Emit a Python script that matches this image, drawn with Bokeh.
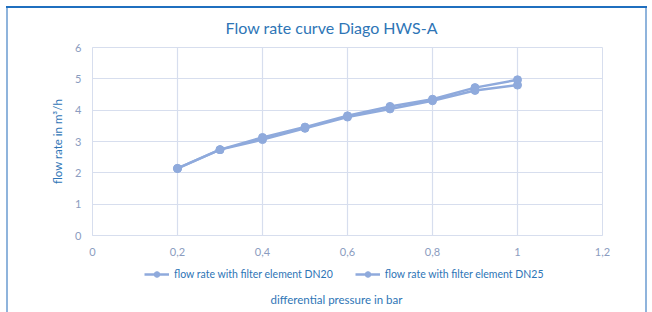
from bokeh.plotting import figure
from bokeh.layouts import column
from bokeh.models import FixedTicker, Legend, LegendItem, Label, Range1d
from bokeh.embed import file_html
from bokeh.resources import INLINE

pressure = [0.2, 0.3, 0.4, 0.5, 0.6, 0.7, 0.8, 0.9, 1.0]
flow_dn20 = [2.14, 2.74, 3.06, 3.42, 3.78, 4.04, 4.30, 4.63, 4.80]
flow_dn25 = [2.14, 2.74, 3.13, 3.46, 3.82, 4.12, 4.35, 4.72, 4.97]
x_ticks = [0, 0.2, 0.4, 0.6, 0.8, 1.0, 1.2]
x_tick_labels = ["0", "0,2", "0,4", "0,6", "0,8", "1", "1,2"]
y_ticks = [0, 1, 2, 3, 4, 5, 6]
series_names = ["flow rate with filter element DN20", "flow rate with filter element DN25"]

FONT = "Lato"
BLUE = "#2e75b6"
TICK = "#8b9cc0"
GRID = "#d7deee"
SERIES = "#8faadc"

frame_bg = ("linear-gradient(#1f6fbf,#1f6fbf) 6px 6px / 641px 2px no-repeat, "
            "linear-gradient(#8fb4dc,#8fb4dc) 6px 6px / 2px 306px no-repeat, "
            "linear-gradient(#8fb4dc,#8fb4dc) 645px 6px / 2px 306px no-repeat, white")

p = figure(width=652, height=262, output_backend="svg", toolbar_location=None,
           x_range=Range1d(0, 1.2), y_range=Range1d(0, 6),
           min_border_left=92, min_border_right=50, min_border_top=47, min_border_bottom=27)
p.border_fill_alpha = 0

p.title.text = "Flow rate curve Diago HWS-A"
p.title.align = "left"
p.title.offset = 133
p.title.standoff = 21
p.title.text_font = FONT
p.title.text_font_size = "16px"
p.title.text_font_style = "normal"
p.title.text_color = BLUE

p.xaxis.ticker = FixedTicker(ticks=x_ticks)
p.xaxis.major_label_overrides = {t: l for t, l in zip(x_ticks, x_tick_labels)}
p.yaxis.ticker = FixedTicker(ticks=y_ticks)
for ax in (p.xaxis, p.yaxis):
    ax.axis_line_color = GRID
    ax.major_tick_line_color = None
    ax.minor_tick_line_color = None
    ax.major_label_text_font = FONT
    ax.major_label_text_font_size = "11px"
    ax.major_label_text_color = TICK
    ax.axis_label_text_font = FONT
    ax.axis_label_text_font_size = "11.5px"
    ax.axis_label_text_font_style = "normal"
    ax.axis_label_text_color = BLUE
p.xaxis.major_label_standoff = 6
p.yaxis.major_label_standoff = 5
p.yaxis.axis_label = "flow rate in m³/h"
p.yaxis.axis_label_standoff = 8

p.grid.grid_line_color = GRID
p.grid.grid_line_width = 1.2
p.outline_line_color = GRID

p.line(pressure, flow_dn20, line_width=2.5, color=SERIES)
p.scatter(pressure, flow_dn20, size=8, color=SERIES)
p.line(pressure, flow_dn25, line_width=2.5, color=SERIES)
p.scatter(pressure, flow_dn25, size=8, color=SERIES)

# legend + x-axis title strip below the plot (its frame is aligned with the plot's frame)
q = figure(width=652, height=50, output_backend="svg", toolbar_location=None,
           x_range=Range1d(0, 1), y_range=Range1d(0, 1),
           x_axis_location=None, y_axis_location=None,
           min_border_left=0, min_border_right=0, min_border_top=0, min_border_bottom=0)
q.grid.visible = False
q.outline_line_color = None
q.border_fill_alpha = 0
q.background_fill_alpha = 0

items = []
for name, flow in zip(series_names, [flow_dn20, flow_dn25]):
    # same series, outside this strip's view: only their legend glyphs show
    lr = q.line(pressure, flow, line_width=2.5, color=SERIES)
    sr = q.scatter(pressure, flow, size=7, color=SERIES)
    items.append(LegendItem(label=name, renderers=[lr, sr]))

legend = Legend(items=items, orientation="horizontal", location=(52, 31),
                border_line_color=None, background_fill_alpha=0,
                label_text_font=FONT, label_text_font_size="10.5px", label_text_color=BLUE,
                glyph_width=25, glyph_height=14, spacing=22, padding=1, margin=0)
q.add_layout(legend)

q.add_layout(Label(x=244, y=13, x_units="screen", y_units="screen",
                   text="differential pressure in bar", text_align="center",
                   text_baseline="middle", text_font=FONT, text_font_size="11.5px",
                   text_color=BLUE))

layout = column(p, q, spacing=0, styles={"background": frame_bg})
open("out.html", "w").write(file_html(layout, INLINE))
